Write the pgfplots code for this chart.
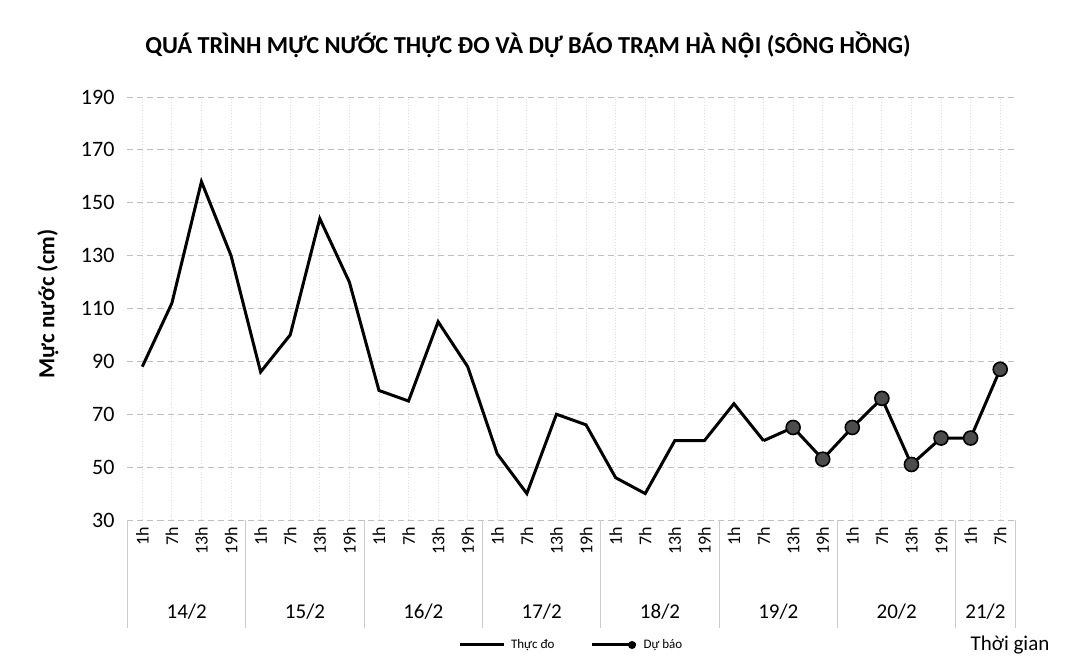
\documentclass[border=0pt]{standalone}
\usepackage{fontspec}
\setmainfont{Carlito}
\newfontfamily\viet{Open Sans}[Scale=0.9]
\usepackage{pgfplots}
\pgfplotsset{compat=1.18}
\begin{document}
\begin{tikzpicture}[x=1pt,y=1pt]
\path[use as bounding box] (0,0) rectangle (536,335);
\node[font=\bfseries\fontsize{12.2}{14}\selectfont] at (264,312.5) {QUÁ TRÌNH MỰC NƯỚC THỰC ĐO VÀ DỰ BÁO TRẠM HÀ N{\viet\bfseries Ộ}I (SÔNG HỒNG)};
\node[rotate=90,font=\bfseries\fontsize{11.5}{12}\selectfont] at (24,183) {Mực nước (cm)};
\node[font=\fontsize{10.5}{11}\selectfont] at (505,12.5) {Thời gian};
\begin{axis}[
  at={(63.75pt,75pt)}, anchor=south west,
  scale only axis, width=443.75pt, height=211.5pt,
  xmin=-0.5, xmax=29.5, ymin=30, ymax=190,
  ytick={30,50,...,190},
  xtick={0,...,29},
  xticklabels={1h,7h,13h,19h,1h,7h,13h,19h,1h,7h,13h,19h,1h,7h,13h,19h,1h,7h,13h,19h,1h,7h,13h,19h,1h,7h,13h,19h,1h,7h},
  xticklabel style={rotate=90, anchor=east, font=\fontsize{9}{10}\selectfont},
  yticklabel style={font=\fontsize{11}{12}\selectfont, xshift=-3pt},
  /pgf/number format/assume math mode=true,
  major tick length=0pt,
  axis line style={draw=none},
  xmajorgrids, ymajorgrids,
  x grid style={gray!25, densely dotted},
  y grid style={gray!50, densely dashed},
  clip=false,
  legend columns=2,
  legend style={at={(0.501,-0.2955)}, anchor=center, draw=none, fill=none,
    font=\fontsize{6.5}{7}\selectfont, column sep=1pt,
    /tikz/every even column/.append style={column sep=16pt}},
  legend image code/.code={\draw[black,line width=1.5pt] (0pt,0pt) -- (22pt,0pt);},
]
\addplot[black, line width=1.5pt, mark=none] coordinates {
(0,88)(1,112)(2,158)(3,130)(4,86)(5,100)(6,144)(7,120)(8,79)(9,75)(10,105)(11,88)
(12,55)(13,40)(14,70)(15,66)(16,46)(17,40)(18,60)(19,60)(20,74)(21,60)};
\addlegendentry{Thực đo}
\addplot[black, line width=1.5pt, mark=*, mark indices={2,...,9},
  mark options={fill=gray!60!black, draw=black, line width=0.8pt},
  mark size=3.5pt,
  legend image code/.code={\draw[black,line width=1.5pt] (0pt,0pt) -- (22pt,0pt); \fill[black] (20pt,0pt) circle (1.2pt);}] coordinates {
(21,60)(22,65)(23,53)(24,65)(25,76)(26,51)(27,61)(28,61)(29,87)};
\addlegendentry{Dự báo}
\pgfplotsinvokeforeach{-0.5,3.5,7.5,11.5,15.5,19.5,23.5,27.5,29.5}{
  \draw[gray!40] (axis cs:#1,30) -- ([yshift=-54pt]axis cs:#1,30);
}
\node[font=\fontsize{10.5}{11}\selectfont] at ([yshift=-46pt]axis cs:1.5,30) {14/2};
\node[font=\fontsize{10.5}{11}\selectfont] at ([yshift=-46pt]axis cs:5.5,30) {15/2};
\node[font=\fontsize{10.5}{11}\selectfont] at ([yshift=-46pt]axis cs:9.5,30) {16/2};
\node[font=\fontsize{10.5}{11}\selectfont] at ([yshift=-46pt]axis cs:13.5,30) {17/2};
\node[font=\fontsize{10.5}{11}\selectfont] at ([yshift=-46pt]axis cs:17.5,30) {18/2};
\node[font=\fontsize{10.5}{11}\selectfont] at ([yshift=-46pt]axis cs:21.5,30) {19/2};
\node[font=\fontsize{10.5}{11}\selectfont] at ([yshift=-46pt]axis cs:25.5,30) {20/2};
\node[font=\fontsize{10.5}{11}\selectfont] at ([yshift=-46pt]axis cs:28.5,30) {21/2};
\end{axis}
\end{tikzpicture}
\end{document}
